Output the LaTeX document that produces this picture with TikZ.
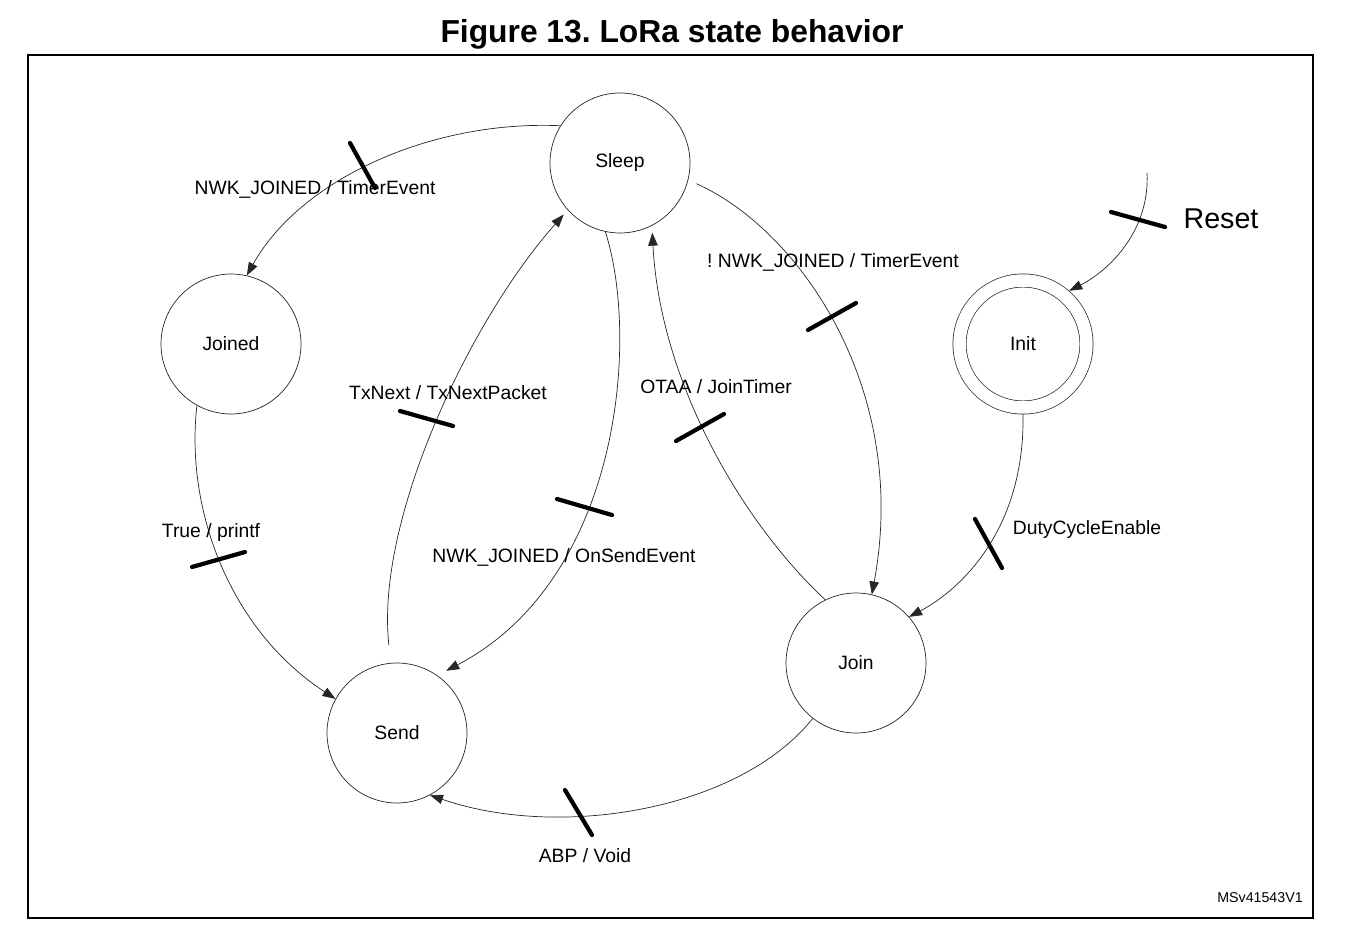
\documentclass[tikz,border=0pt]{standalone}
\usepackage{fontspec}
\setmainfont{Liberation Sans}
\usetikzlibrary{arrows.meta, positioning}

\tikzset{
  state/.style={draw=black!85, circle, line width=0.4pt, minimum size=2.8cm, inner sep=0pt, font=\fontsize{11}{13}\selectfont},
  trans/.style={draw=black!85, line width=0.4pt, -{Triangle[length=0.26cm, width=0.19cm]}},
  bar/.style={line width=2.4pt, line cap=round},
  lbl/.style={inner sep=1pt, font=\fontsize{11}{13}\selectfont},
}

\begin{document}
\frenchspacing
\begin{tikzpicture}[x=0.02cm, y=-0.02cm]
\useasboundingbox (0,0) rectangle (1345,939);
\node[font=\bfseries\fontsize{18.1}{21}\selectfont] (title) at (672,34) {Figure 13. LoRa state behavior};
\draw[line width=0.8pt] (28,55) rectangle (1313,918);

\node[state] (sleep) at (620,163) {Sleep};
\node[state] (joined) at (231,344) {Joined};
\node[state, double, double distance=0.25cm, minimum size=2.54cm, outer sep=0.14cm] (init) at (1023,344) {Init};
\node[state] (send) at (397,733) {Send};
\node[state] (join) at (856,663) {Join};
\coordinate (rst) at (1147,173);

\draw[trans] (sleep.148) .. controls (430,120) and (300,180) .. (joined.77);
\draw[trans] (joined.241) .. controls (185,510) and (230,630) .. (send.151);
\draw[trans, shorten <=0.36cm, shorten >=0.12cm] (send.95) .. controls (375,520) and (470,320) .. (sleep.222);
\draw[trans, shorten >=0.2cm] (sleep.258) .. controls (640,340) and (620,580) .. (send.55);
\draw[trans, shorten <=0.18cm] (sleep.346) .. controls (800,230) and (910,390) .. (join.77);
\draw[trans, shorten >=0.14cm] (join.116) .. controls (740,520) and (660,380) .. (sleep.297);
\draw[trans] (rst) .. controls (1150,230) and (1110,270) .. (init.49);
\draw[trans] (init.270) .. controls (1025,530) and (960,590) .. (join.41);
\draw[trans] (join.232) .. controls (740,810) and (560,840) .. (send.298);

\draw[bar] (350,143) -- (375,188);
\draw[bar] (192,567) -- (245,552);
\draw[bar] (400,411) -- (453,426);
\draw[bar] (557,499) -- (612,515);
\draw[bar] (808,330) -- (856,303);
\draw[bar] (676,441) -- (724,414);
\draw[bar] (1111,212) -- (1165,227);
\draw[bar] (975,519) -- (1002,568);
\draw[bar] (565,790) -- (592,835);

\node[lbl] (l-joined) at (315,189) {NWK\_JOINED / TimerEvent};
\node[lbl] (l-printf) at (211,532) {True / printf};
\node[lbl] (l-txnext) at (448,393) {TxNext / TxNextPacket};
\node[lbl] (l-onsend) at (564,557) {NWK\_JOINED / OnSendEvent};
\node[lbl] (l-notjoined) at (833,262) {! NWK\_JOINED / TimerEvent};
\node[lbl] (l-otaa) at (716,387) {OTAA / JoinTimer};
\node[lbl] (l-duty) at (1087,529) {DutyCycleEnable};
\node[lbl] (l-abp) at (585,856) {ABP / Void};
\node[lbl, font=\fontsize{16.3}{19}\selectfont] (l-reset) at (1221,219) {Reset};
\node[lbl, font=\fontsize{8.1}{10}\selectfont] (code) at (1260,898) {MSv41543V1};
\end{tikzpicture}
\end{document}
